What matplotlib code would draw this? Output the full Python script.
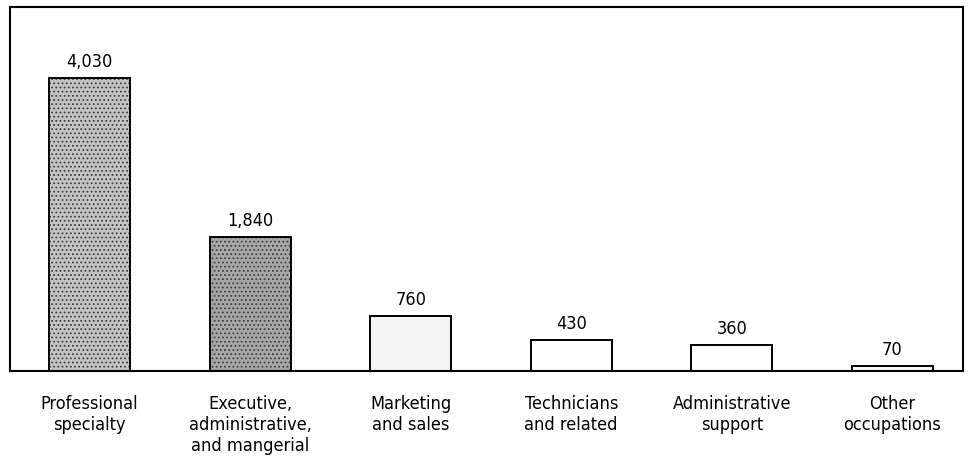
import matplotlib.pyplot as plt
import numpy as np

plt.rcParams['font.family'] = ['DejaVu Sans']
plt.rcParams['hatch.linewidth'] = 0.8

# Occupations (thousands) - categories and values
categorias = [
    "Professional\nspecialty",
    "Executive,\nadministrative,\nand mangerial",
    "Marketing\nand sales",
    "Technicians\nand related",
    "Administrative\nsupport",
    "Other\noccupations",
]
valores = [4030, 1840, 760, 430, 360, 70]
rotulos = ["4,030", "1,840", "760", "430", "360", "70"]

# tons de cinza das barras (as duas primeiras mais escuras, pontilhadas)
cores = ["#c4c4c4", "#a6a6a6", "#f4f4f4", "white", "white", "#fafafa"]
hachuras = ["....", "....", "", "", "", ""]

fig = plt.figure(figsize=(9.76, 4.58), dpi=100)
ax = fig.add_axes([10 / 976, 87 / 458, 953 / 976, 364 / 458])

x = np.arange(len(valores))
barras = ax.bar(x, valores, width=0.505, color=cores, edgecolor="black",
                linewidth=1.4, zorder=2)
for b, h in zip(barras, hachuras):
    if h:
        b.set_hatch(h)
        b._hatch_color = (0.25, 0.25, 0.25, 1.0)

texto = dict(fontsize=13, fontstretch="condensed")

for b, r in zip(barras, rotulos):
    ax.annotate(r, (b.get_x() + b.get_width() / 2, b.get_height()),
                xytext=(0, 8), textcoords="offset points",
                ha="center", va="baseline", **texto)

for xi, c in zip(x, categorias):
    ax.annotate(c, (xi, 0), xytext=(0, -17), textcoords="offset points",
                ha="center", va="top", linespacing=1.22, **texto)

ax.set_xlim(-0.495, 5.44)
ax.set_ylim(0, 5000)
ax.set_xticks([])
ax.set_yticks([])
for s in ax.spines.values():
    s.set_linewidth(1.5)

fig.savefig("out.png", dpi=100)
